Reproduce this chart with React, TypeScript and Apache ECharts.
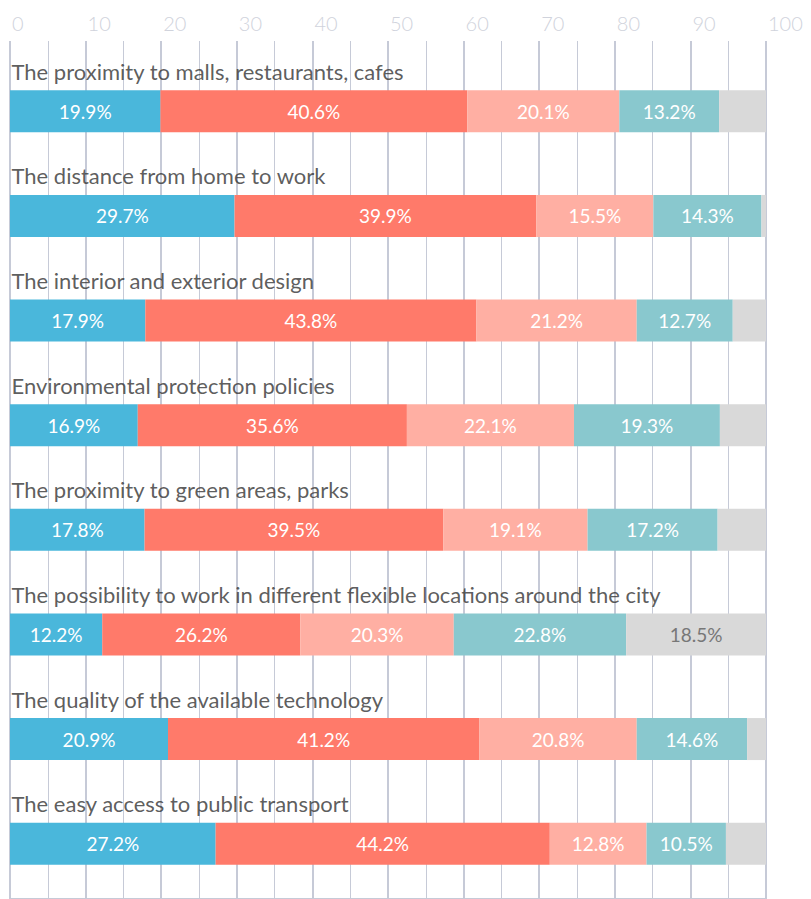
import React, { useEffect, useRef } from "react";
import * as echarts from "echarts";

const categories = [
  "The proximity to malls, restaurants, cafes",
  "The distance from home to work",
  "The interior and exterior design",
  "Environmental protection policies",
  "The proximity to green areas, parks",
  "The possibility to work in different flexible locations around the city",
  "The quality of the available technology",
  "The easy access to public transport",
];
const seriesA = [19.9, 29.7, 17.9, 16.9, 17.8, 12.2, 20.9, 27.2];
const seriesB = [40.6, 39.9, 43.8, 35.6, 39.5, 26.2, 41.2, 44.2];
const seriesC = [20.1, 15.5, 21.2, 22.1, 19.1, 20.3, 20.8, 12.8];
const seriesD = [13.2, 14.3, 12.7, 19.3, 17.2, 22.8, 14.6, 10.5];
const seriesE = [6.2, 0.6, 4.4, 6.1, 6.4, 18.5, 2.5, 5.3];
const colors = ["#4ab7db", "#ff7a6a", "#ffafa3", "#89c8ce", "#d9d9d9"];

const FONT = "Lato";
const GRID_COLOR = "#c6cad7";

export default function App() {
  const ref = useRef<HTMLDivElement>(null);
  useEffect(() => {
    if (!ref.current) return;
    const chart = echarts.init(ref.current, undefined, { renderer: "svg" });
    const all = [seriesA, seriesB, seriesC, seriesD, seriesE];
    const series: any[] = all.map((vals, i) => ({
      type: "bar",
      stack: "total",
      xAxisIndex: 1,
      yAxisIndex: 1,
      barWidth: 42,
      data: vals,
      itemStyle: { color: colors[i] },
      label: {
        show: true,
        position: "inside",
        color: i === 4 ? "#777777" : "#ffffff",
        fontFamily: FONT,
        fontSize: 19,
        formatter: (p: any) => (p.value >= 8 ? p.value.toFixed(1) + "%" : ""),
      },
    }));
    series.push({
      type: "scatter",
      xAxisIndex: 1,
      yAxisIndex: 1,
      symbolSize: 1,
      itemStyle: { color: "rgba(0,0,0,0)" },
      data: categories.map((c) => [0, c]),
      z: 5,
      label: {
        show: true,
        position: "right",
        distance: 1,
        offset: [0, -40],
        color: "#333333",
        fontFamily: FONT,
        fontSize: 22,
        formatter: (p: any) => p.value[1],
      },
    });
    chart.setOption({
      animation: false,
      grid: [
        { left: 10, right: 45, top: 41, bottom: 0 },
        { left: 10, right: 45, top: 59, bottom: 3 },
      ],
      xAxis: [
        {
          gridIndex: 0,
          type: "value",
          position: "top",
          min: 0,
          max: 100,
          interval: 10,
          axisLine: { show: true, lineStyle: { color: GRID_COLOR, width: 2 } },
          axisTick: { show: true, length: 31, lineStyle: { color: GRID_COLOR, width: 2 } },
          minorTick: { show: false, splitNumber: 2 },
          axisLabel: {
            show: true,
            align: "left",
            margin: 8,
            padding: [0, 0, 0, 2],
            color: "#d0d3dc",
            fontFamily: FONT,
            fontWeight: 300,
            fontSize: 20,
          },
          splitLine: { show: true, lineStyle: { color: GRID_COLOR, width: 2 } },
          minorSplitLine: { show: true, lineStyle: { color: GRID_COLOR, width: 1 } },
        },
        {
          gridIndex: 1,
          type: "value",
          min: 0,
          max: 100,
          show: false,
        },
      ],
      yAxis: [
        { gridIndex: 0, type: "value", show: false, min: 0, max: 1 },
        {
          gridIndex: 1,
          type: "category",
          inverse: true,
          data: categories,
          axisLine: { show: false },
          axisTick: { show: false },
          splitLine: { show: false },
          axisLabel: { show: false },
        },
      ],
      series,
    });
    return () => chart.dispose();
  }, []);
  return (
    <div
      ref={ref}
      style={{ position: "fixed", left: 0, top: 0, width: 811, height: 899, background: "#fff" }}
    />
  );
}
